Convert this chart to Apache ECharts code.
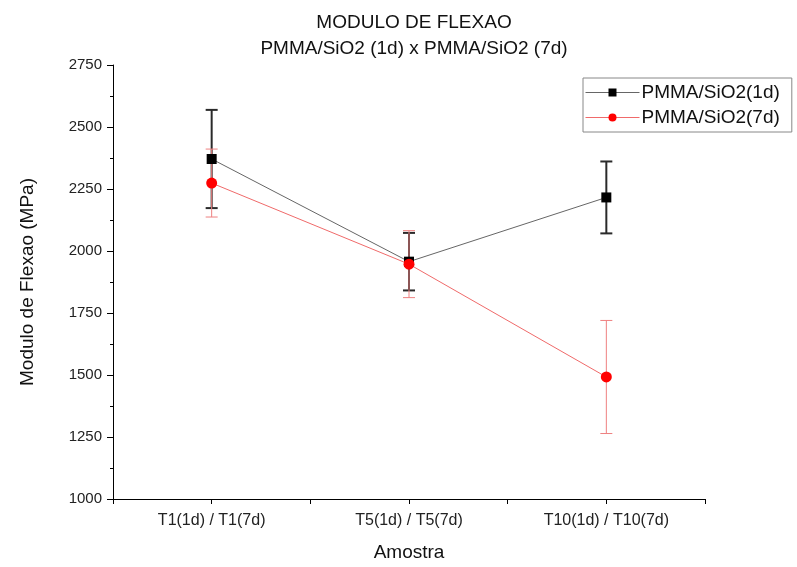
<!DOCTYPE html>
<html>
<head>
<meta charset="utf-8">
<script src="https://cdn.jsdelivr.net/npm/echarts@6/dist/echarts.min.js"></script>
<style>html,body{margin:0;padding:0;background:#fff}#c{width:797px;height:567px}</style>
</head>
<body>
<div id="c"></div>
<script>
var categories = ['T1(1d) / T1(7d)', 'T5(1d) / T5(7d)', 'T10(1d) / T10(7d)'];
var positions = [1, 2, 3];
var mean1d = [2371, 1957, 2216];
var err1d = [198, 116, 145];
var mean7d = [2274, 1947, 1492];
var err7d = [137, 135, 228];
var yTicks = [1000, 1250, 1500, 1750, 2000, 2250, 2500, 2750];

var FONT = '"Liberation Sans", Arial, sans-serif';

function pts(means) { return positions.map(function (p, i) { return [p, means[i]]; }); }
function errData(means, errs) { return positions.map(function (p, i) { return [p, means[i] - errs[i], means[i] + errs[i]]; }); }

function errRender(color, width, half) {
  return function (params, api) {
    var x = api.value(0);
    var lo = api.coord([x, api.value(1)]);
    var hi = api.coord([x, api.value(2)]);
    var st = { stroke: color, lineWidth: width };
    return {
      type: 'group',
      children: [
        { type: 'line', shape: { x1: lo[0], y1: lo[1], x2: hi[0], y2: hi[1] }, style: st },
        { type: 'line', shape: { x1: hi[0] - half, y1: hi[1], x2: hi[0] + half, y2: hi[1] }, style: st },
        { type: 'line', shape: { x1: lo[0] - half, y1: lo[1], x2: lo[0] + half, y2: lo[1] }, style: st }
      ]
    };
  };
}

var chart = echarts.init(document.getElementById('c'), null, { renderer: 'canvas' });
chart.setOption({
  backgroundColor: '#fff',
  animation: false,
  textStyle: { fontFamily: FONT },
  title: {
    text: 'MODULO DE FLEXAO\nPMMA/SiO2 (1d) x PMMA/SiO2 (7d)',
    left: 409, top: 5, textAlign: 'center',
    textStyle: { fontSize: 19, fontWeight: 'normal', color: '#111', lineHeight: 26, fontFamily: FONT }
  },
  legend: {
    left: 583, top: 78,
    orient: 'vertical',
    padding: [5, 12, 5, 2],
    itemGap: 6,
    itemWidth: 54, itemHeight: 10,
    borderColor: '#888', borderWidth: 1,
    lineStyle: { width: 1 },
    textStyle: { fontSize: 19, color: '#111', fontFamily: FONT, padding: [0, 0, 0, -3] },
    data: ['PMMA/SiO2(1d)', 'PMMA/SiO2(7d)']
  },
  grid: { left: 113, right: 92, top: 65, bottom: 67, containLabel: false },
  xAxis: {
    type: 'value', min: 0.5, max: 3.5, interval: 0.5,
    name: 'Amostra', nameLocation: 'middle', nameGap: 44,
    nameTextStyle: { fontSize: 19, color: '#111', fontFamily: FONT },
    axisLine: { show: true, lineStyle: { color: '#000', width: 1 } },
    axisTick: { show: true, length: 5, lineStyle: { color: '#000' } },
    splitLine: { show: false },
    axisLabel: {
      fontSize: 16, color: '#222', margin: 14, fontFamily: FONT,
      formatter: function (v) { var i = positions.indexOf(v); return i >= 0 ? categories[i] : ''; }
    }
  },
  yAxis: {
    type: 'value', min: yTicks[0], max: yTicks[yTicks.length - 1], interval: 250,
    name: 'Modulo de Flexao (MPa)', nameLocation: 'middle', nameGap: 76,
    nameTextStyle: { fontSize: 19, color: '#111', fontFamily: FONT },
    axisLine: { show: true, lineStyle: { color: '#000', width: 1 } },
    axisTick: { show: true, length: 6, lineStyle: { color: '#000' } },
    minorTick: { show: true, splitNumber: 2, length: 3, lineStyle: { color: '#000' } },
    splitLine: { show: false },
    axisLabel: { fontSize: 15, color: '#222', margin: 11, fontFamily: FONT,
      formatter: function (v) { return String(v); } }
  },
  series: [
    {
      type: 'custom', name: 'err1d', renderItem: errRender('#2a2a2a', 2, 6),
      data: errData(mean1d, err1d), z: 2, silent: true
    },
    {
      type: 'custom', name: 'err7d', renderItem: errRender('#ee8080', 1, 6),
      data: errData(mean7d, err7d), z: 3, silent: true
    },
    {
      type: 'line', name: 'PMMA/SiO2(1d)', data: pts(mean1d),
      symbol: 'rect', symbolSize: 10,
      itemStyle: { color: '#000' },
      lineStyle: { color: '#666', width: 1 }, z: 4
    },
    {
      type: 'line', name: 'PMMA/SiO2(7d)', data: pts(mean7d),
      symbol: 'circle', symbolSize: 11,
      itemStyle: { color: '#ff0000' },
      lineStyle: { color: '#f06a6a', width: 1 }, z: 5
    }
  ]
});
</script>
</body>
</html>
